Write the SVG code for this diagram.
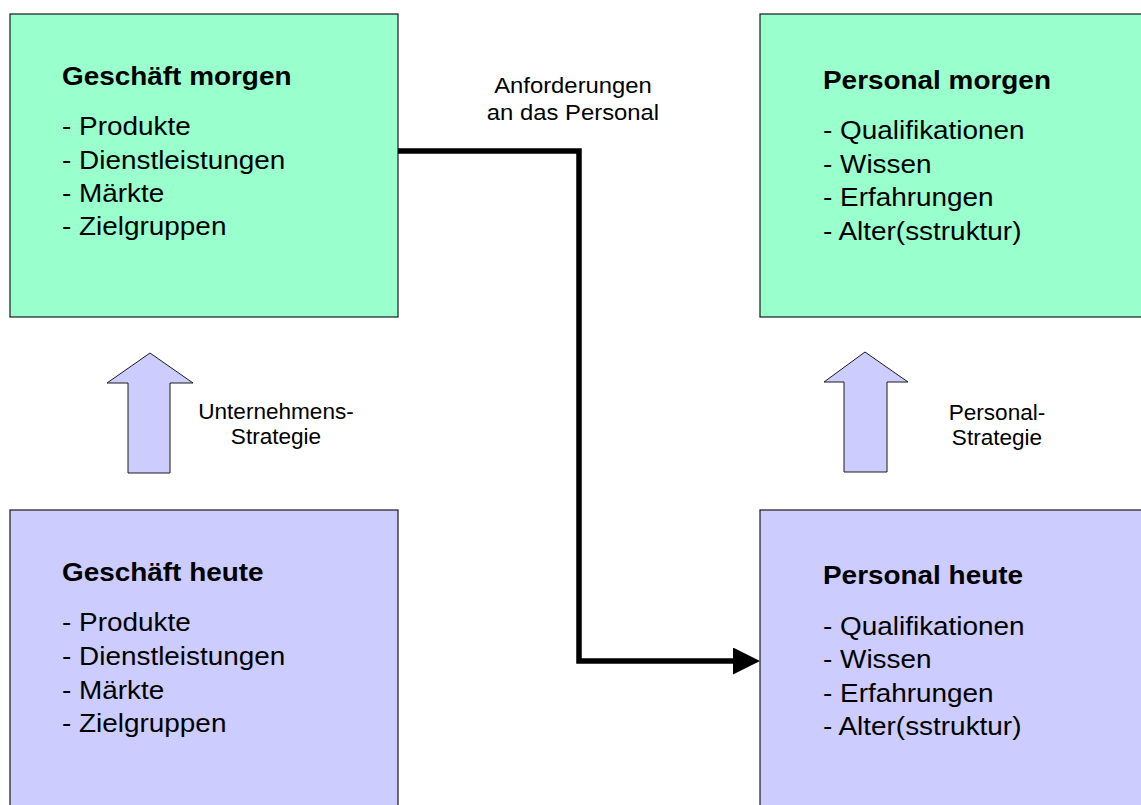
<svg xmlns="http://www.w3.org/2000/svg" width="1141" height="805" viewBox="0 0 1141 805">
<style>
.box{stroke:#1a1a1a;stroke-width:1.2}
.green{fill:#99FFCC}
.violet{fill:#CCCCFF}
.blk{fill:#CCCCFF;stroke:#1a1a1a;stroke-width:1}
text{font-family:"Liberation Sans",Arial,sans-serif;fill:#000}
.t{font-size:25.5px;font-weight:bold}
.i{font-size:25.5px}
.l{font-size:21.5px;text-anchor:middle}
.la{font-size:22.5px;text-anchor:middle}
.conn{fill:none;stroke:#000;stroke-width:5.5;stroke-linejoin:miter}
</style>
<defs>
<marker id="ah" markerUnits="userSpaceOnUse" markerWidth="28" markerHeight="28" refX="1" refY="13.5" orient="auto">
<path d="M0,0 L27,13.5 L0,27 Z" fill="#000"/>
</marker>
</defs>
<rect width="1141" height="805" fill="#fff"/>

<g id="geschaeft-morgen">
<rect class="box green" x="10" y="14" width="388" height="303"/>
<g transform="translate(62,0) scale(1.095,1)">
<text class="t" x="0" y="85">Geschäft morgen</text>
<text class="i" x="0" y="135">- Produkte</text>
<text class="i" x="0" y="169">- Dienstleistungen</text>
<text class="i" x="0" y="202">- Märkte</text>
<text class="i" x="0" y="235">- Zielgruppen</text>
</g>
</g>

<g id="personal-morgen">
<rect class="box green" x="760" y="14" width="400" height="303"/>
<g transform="translate(823,0) scale(1.095,1)">
<text class="t" x="0" y="89">Personal morgen</text>
<text class="i" x="0" y="139">- Qualifikationen</text>
<text class="i" x="0" y="173">- Wissen</text>
<text class="i" x="0" y="206">- Erfahrungen</text>
<text class="i" x="0" y="240">- Alter(sstruktur)</text>
</g>
</g>

<g id="geschaeft-heute">
<rect class="box violet" x="10" y="510" width="388" height="310"/>
<g transform="translate(62,0) scale(1.095,1)">
<text class="t" x="0" y="581">Geschäft heute</text>
<text class="i" x="0" y="631">- Produkte</text>
<text class="i" x="0" y="665">- Dienstleistungen</text>
<text class="i" x="0" y="699">- Märkte</text>
<text class="i" x="0" y="732">- Zielgruppen</text>
</g>
</g>

<g id="personal-heute">
<rect class="box violet" x="760" y="510" width="400" height="310"/>
<g transform="translate(823,0) scale(1.095,1)">
<text class="t" x="0" y="584">Personal heute</text>
<text class="i" x="0" y="635">- Qualifikationen</text>
<text class="i" x="0" y="668">- Wissen</text>
<text class="i" x="0" y="702">- Erfahrungen</text>
<text class="i" x="0" y="735">- Alter(sstruktur)</text>
</g>
</g>

<g id="unternehmens-strategie">
<polygon class="blk" points="150,353 193,383 170,383 170,473 128,473 128,383 107,383"/>
<g transform="translate(276,0) scale(1.05,1)">
<text class="l" x="0" y="419">Unternehmens-</text>
<text class="l" x="0" y="444">Strategie</text>
</g>
</g>

<g id="personal-strategie">
<polygon class="blk" points="865,352 908,382 887,382 887,472 844,472 844,382 824,382"/>
<g transform="translate(997,0) scale(1.05,1)">
<text class="l" x="0" y="420">Personal-</text>
<text class="l" x="0" y="445">Strategie</text>
</g>
</g>

<g id="connectors">
<path class="conn" d="M398,151 H579 V661 H734" marker-end="url(#ah)"/>
<g transform="translate(573,0) scale(1.06,1)">
<text class="la" x="0" y="93">Anforderungen</text>
<text class="la" x="0" y="120">an das Personal</text>
</g>
</g>
</svg>
